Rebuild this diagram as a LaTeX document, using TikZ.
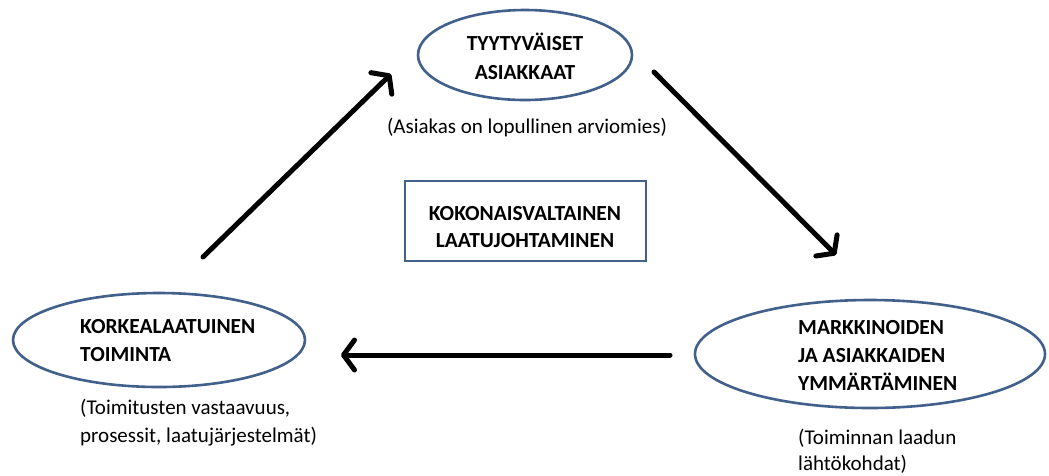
\documentclass[tikz,border=0pt]{standalone}
\usepackage{fontspec}
\setmainfont{Carlito}
\usetikzlibrary{shapes.geometric,arrows.meta}
\definecolor{rimblue}{RGB}{66,96,140}
\begin{document}
\begin{tikzpicture}[x=1pt,y=-1pt,
  oval/.style={draw=rimblue,line width=2.6pt,ellipse,inner sep=0pt},
  frame/.style={draw=rimblue,line width=2pt,inner sep=0pt},
  head/.style={font=\fontsize{21.5}{28}\selectfont\bfseries,inner sep=0pt},
  note/.style={font=\fontsize{21}{28}\selectfont,inner sep=0pt,align=left},
  flow/.style={line width=5pt,line cap=round,
    -{Straight Barb[length=11pt,width=30pt,line width=5pt,round]}}]
\useasboundingbox (0,0) rectangle (1049,475);
\fill[white] (0,0) rectangle (1049,475);

% satisfied customers
\node[oval,minimum width=214pt,minimum height=90pt] (cust) at (525,55) {};
\node[head,align=center,font=\fontsize{21.5}{29}\selectfont\bfseries] (custtext) at (525,56) {TYYTYVÄISET\\ASIAKKAAT};
\node[note] (custnote) at (527,128) {(Asiakas on lopullinen arviomies)};

% central box
\node[frame,minimum width=241pt,minimum height=80pt] (tqm) at (525,221) {};
\node[head,align=center,font=\fontsize{21.5}{27}\selectfont\bfseries] (tqmtext) at (525,227) {KOKONAISVALTAINEN\\LAATUJOHTAMINEN};

% high quality operation
\node[oval,minimum width=292pt,minimum height=94pt] (ops) at (159,340) {};
\node[head,align=left,anchor=west] (opstext) at (80,340.5) {KORKEALAATUINEN\\TOIMINTA};
\node[note,anchor=west] (opsnote) at (80,423) {(Toimitusten vastaavuus,\\prosessit, laatujärjestelmät)};

% understanding markets and customers
\node[oval,minimum width=350pt,minimum height=108pt] (mkt) at (870,354) {};
\node[head,align=left,anchor=west] (mkttext) at (798,355) {MARKKINOIDEN\\JA ASIAKKAIDEN\\YMMÄRTÄMINEN};
\node[note,anchor=west,font=\fontsize{21}{26}\selectfont] (mktnote) at (798,451) {(Toiminnan laadun\\lähtökohdat)};

% cycle arrows
\coordinate (a1s) at (203,257);
\coordinate (a1e) at (391,74);
\coordinate (a2s) at (654,72);
\coordinate (a2e) at (836,255);
\coordinate (a3s) at (670,355);
\coordinate (a3e) at (341,355);
\draw[flow] (a1s) -- (a1e);
\draw[flow] (a2s) -- (a2e);
\draw[flow] (a3s) -- (a3e);
\end{tikzpicture}
\end{document}
